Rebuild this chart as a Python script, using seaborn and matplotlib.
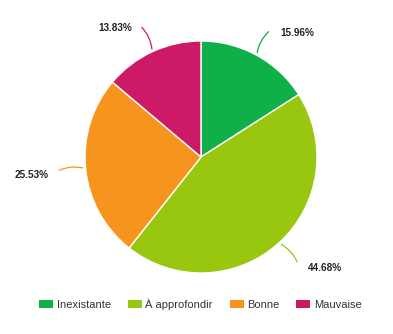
import numpy as np
import matplotlib
matplotlib.use("Agg")
import matplotlib.pyplot as plt
import seaborn as sns
from matplotlib.patches import Patch

sns.set_theme(style="white")
plt.rcParams['font.family'] = ['Liberation Sans', 'DejaVu Sans']

categories = ["Inexistante", "À approfondir", "Bonne", "Mauvaise"]
values = [15.96, 44.68, 25.53, 13.83]
colors = ["#0fb04a", "#99c710", "#f7941d", "#cc1a66"]

W, H = 393, 334
fig = plt.figure(figsize=(W / 100, H / 100), dpi=100)
ax = fig.add_axes([0, 0, 1, 1])

cx, cy, R = 201, H - 157, 116
wedges, _ = ax.pie(values, colors=colors, startangle=90, counterclock=False,
                   center=(cx, cy), radius=R, frame=True,
                   wedgeprops=dict(edgecolor="white", linewidth=1))
ax.set_xlim(0, W)
ax.set_ylim(0, H)
ax.set_aspect("equal")
ax.axis("off")

total = sum(values)
cum = 0
for v, c in zip(values, colors):
    mid = (cum + v / 2) / total
    cum += v
    ang = np.deg2rad(90 - 360 * mid)
    x0, y0 = cx + R * np.cos(ang), cy + R * np.sin(ang)
    r2 = R * 1.25
    x1, y1 = cx + r2 * np.cos(ang), cy + r2 * np.sin(ang)
    right = np.cos(ang) >= 0
    ax.annotate("", xy=(x0, y0), xytext=(x1, y1),
                arrowprops=dict(arrowstyle="-", color=c, lw=0.9,
                                connectionstyle="arc3,rad=0.2" if right else "arc3,rad=-0.2"))
    ax.text(x1 + (10 if right else -8), y1 - 3, f"{v:.2f}%", ha="left" if right else "right",
            va="center", fontsize=7.2, fontweight="bold", color="#222222")

handles = [Patch(facecolor=c, edgecolor="none") for c in colors]
fig.legend(handles, categories, loc="center", ncol=4,
           bbox_to_anchor=(200.5 / W, 1 - 304 / H), frameon=False,
           fontsize=8, handlelength=1.26, handleheight=0.8,
           handletextpad=0.35, columnspacing=1.5, labelcolor="#333333")

fig.savefig("out.png", dpi=100)
